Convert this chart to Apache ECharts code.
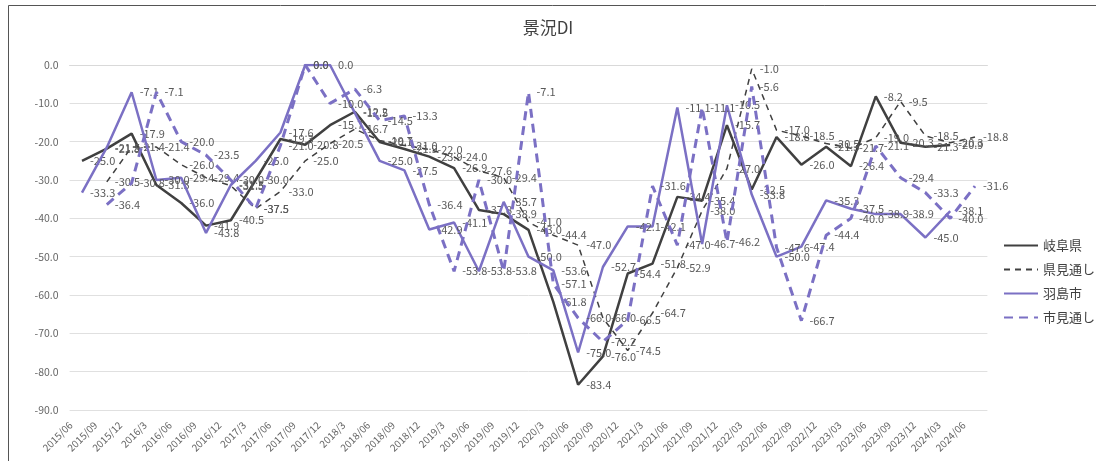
<!DOCTYPE html>
<html><head><meta charset="utf-8">
<script src="https://cdn.jsdelivr.net/npm/echarts@6/dist/echarts.min.js"></script>
<style>html,body{margin:0;padding:0;background:#fff}#c{width:1096px;height:461px}</style>
</head><body><div id="c"></div>
<script>
const categories = ['2015/06','2015/09','2015/12','2016/3','2016/06','2016/09','2016/12','2017/3','2017/06','2017/09','2017/12','2018/3','2018/06','2018/09','2018/12','2019/3','2019/06','2019/09','2019/12','2020/3','2020/06','2020/09','2020/12','2021/3','2021/06','2021/09','2021/12','2022/03','2022/06','2022/09','2022/12','2023/03','2023/06','2023/09','2023/12','2024/03','2024/06'];
const gifu = [-25.0,-21.8,-17.9,-31.3,-36.0,-41.9,-40.5,-30.0,-19.3,-20.8,-15.7,-12.2,-20.1,-21.9,-23.9,-26.9,-37.8,-38.9,-43.0,-61.8,-83.4,-76.0,-54.4,-51.8,-34.4,-35.4,-15.7,-32.5,-18.8,-26.0,-21.3,-26.4,-8.2,-20.3,-21.3,-20.9,null];
const kenMitoshi = [null,-30.5,-21.4,-21.4,-26.0,-29.4,-31.5,-37.5,-33.0,-25.0,-20.5,-16.7,-19.7,-21.0,-22.0,-24.0,-27.6,-29.4,-41.0,-44.4,-47.0,-66.0,-74.5,-64.7,-52.9,-38.0,-27.0,-1.0,-17.0,-18.5,-20.5,-21.7,-19.0,-9.5,-18.5,-20.3,-18.8];
const hashima = [-33.3,-21.5,-7.1,-30.0,-29.4,-43.8,-31.3,-25.0,-17.6,0.0,0.0,-12.5,-25.0,-27.5,-42.9,-41.1,-53.8,-35.7,-50.0,-53.6,-75.0,-52.7,-42.1,-42.1,-11.1,-46.7,-10.5,-33.8,-50.0,-47.4,-35.3,-37.5,-38.9,-38.9,-45.0,-38.1,null];
const shiMitoshi = [null,-36.4,-30.8,-7.1,-20.0,-23.5,-30.0,-37.5,-21.0,0.0,-10.0,-6.3,-14.5,-13.3,-36.4,-53.8,-30.0,-53.8,-7.1,-57.1,-66.0,-72.2,-66.5,-31.6,-47.0,-11.1,-46.2,-5.6,-47.6,-66.7,-44.4,-40.0,-21.1,-29.4,-33.3,-40.0,-31.6];
const seriesNames = ['岐阜県','県見通し','羽島市','市見通し'];

const FONT = '"Noto Sans CJK JP", "Noto Sans", sans-serif';
const DARK = '#404040';
const PURPLE = '#7b70c4';
const lbl = {show:true, position:'right', distance:8, offset:[0,-2], fontSize:11, color:'#595959', fontFamily:FONT,
  formatter: p => (p.value==null ? '' : Number(p.value).toFixed(1))};
const common = {type:'line', symbol:'circle', symbolSize:0.1, showSymbol:true, showAllSymbol:true, label:lbl, labelLayout:{hideOverlap:false}};

const chart = echarts.init(document.getElementById('c'), null, {renderer:'canvas'});
chart.setOption({
  animation:false,
  backgroundColor:'#fff',
  textStyle:{fontFamily:FONT},
  title:{text:'景況DI', left:'center', top:14, textStyle:{fontSize:17, fontWeight:'normal', color:'#404040', fontFamily:FONT}},
  graphic:[{type:'rect', shape:{x:8.5, y:5.5, width:1100, height:470}, style:{fill:'none', stroke:'#555', lineWidth:1}, silent:true}],
  legend:{orient:'vertical', left:998, top:234, itemGap:11, itemWidth:34, itemHeight:14,
    itemStyle:{opacity:0},
    textStyle:{fontSize:13, color:'#404040', fontFamily:FONT}, data:seriesNames},
  grid:{left:69.6, right:108.6, top:65, bottom:51, containLabel:false},
  xAxis:{type:'category', data:categories, boundaryGap:true,
    axisLine:{show:true, lineStyle:{color:'#d9d9d9'}}, axisTick:{show:false},
    axisLabel:{rotate:45, fontSize:10, color:'#666', fontFamily:FONT, margin:2, interval:0, padding:[0,16,0,0]}},
  yAxis:{type:'value', min:-90, max:0, interval:10,
    axisLine:{show:false}, axisTick:{show:false},
    splitLine:{lineStyle:{color:'#e0e0e0', width:1}},
    axisLabel:{fontSize:10.5, color:'#666', fontFamily:FONT, margin:11, formatter: v => v.toFixed(1)}},
  series:[
    Object.assign({name:seriesNames[0], data:gifu, color:DARK, lineStyle:{color:DARK, width:2.5}, z:2}, common),
    Object.assign({name:seriesNames[1], data:kenMitoshi, color:DARK, lineStyle:{color:DARK, width:1.5, type:[6,5]}, z:3}, common),
    Object.assign({name:seriesNames[2], data:hashima, color:PURPLE, lineStyle:{color:PURPLE, width:2.5}, z:4}, common),
    Object.assign({name:seriesNames[3], data:shiMitoshi, color:PURPLE, lineStyle:{color:PURPLE, width:3, type:[9,6]}, z:5}, common)
  ]
});
</script></body></html>
